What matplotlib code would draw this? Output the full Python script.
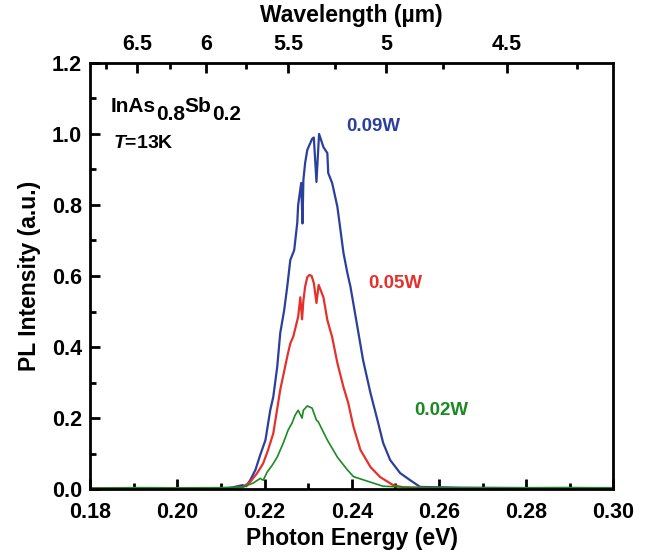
import matplotlib.pyplot as plt
import numpy as np
from matplotlib.ticker import MultipleLocator, FixedLocator
from matplotlib import transforms

plt.rcParams['font.family'] = ['Liberation Sans', 'DejaVu Sans']
plt.rcParams['font.weight'] = 'bold'
plt.rcParams['mathtext.fontset'] = 'custom'
plt.rcParams['mathtext.rm'] = 'Liberation Sans:bold'
plt.rcParams['mathtext.it'] = 'Liberation Sans:bold:italic'

# photon energy (eV) / intensity
e_blue = [0.180, 0.195, 0.205, 0.212, 0.2149, 0.2158, 0.2167, 0.2179, 0.2190, 0.2202,
          0.2213, 0.2220, 0.2229, 0.2236, 0.2245, 0.2252, 0.2259, 0.2268, 0.2275,
          0.2277, 0.2284, 0.2287, 0.2289, 0.2293, 0.2298, 0.2309, 0.2313, 0.2319,
          0.2325, 0.2335, 0.2344, 0.2346, 0.2355, 0.2367, 0.2374, 0.2381, 0.2390,
          0.2397, 0.2413, 0.2426, 0.2443, 0.2459, 0.2472, 0.2488, 0.2511, 0.2534,
          0.2557, 0.265, 0.28, 0.30]
i_blue = [0.002, 0.003, 0.002, 0.003, 0.011, 0.008, 0.025, 0.054, 0.096, 0.138,
          0.222, 0.26, 0.344, 0.44, 0.504, 0.57, 0.645, 0.673, 0.75,
          0.80, 0.862, 0.748, 0.87, 0.918, 0.955, 0.986, 0.99, 0.865,
          1.0, 0.963, 0.946, 0.89, 0.862, 0.795, 0.73, 0.665, 0.608,
          0.57, 0.456, 0.363, 0.27, 0.194, 0.13, 0.082, 0.045, 0.025,
          0.006, 0.004, 0.003, 0.003]

e_red = [0.180, 0.195, 0.205, 0.212, 0.2151, 0.2167, 0.2183, 0.2197, 0.2208, 0.2220,
         0.2236, 0.2252, 0.2259, 0.2266, 0.2277, 0.2282, 0.2286, 0.2289, 0.2293,
         0.2298, 0.2303, 0.2308, 0.2313, 0.2319, 0.2324, 0.2335, 0.2344, 0.2355,
         0.2367, 0.2381, 0.2392, 0.2404, 0.2420, 0.2443, 0.2465, 0.2495, 0.2518,
         0.26, 0.28, 0.30]
i_red = [0.002, 0.002, 0.003, 0.002, 0.006, 0.02, 0.045, 0.073, 0.11, 0.157,
         0.28, 0.373, 0.41, 0.43, 0.485, 0.54, 0.478, 0.53, 0.57,
         0.597, 0.603, 0.60, 0.58, 0.524, 0.575, 0.54, 0.476, 0.428,
         0.355, 0.287, 0.242, 0.175, 0.11, 0.062, 0.034, 0.011, 0.005,
         0.003, 0.002, 0.002]

e_green = [0.180, 0.190, 0.200, 0.210, 0.2151, 0.2174, 0.2190, 0.2197, 0.2206, 0.2218,
           0.2229, 0.2243, 0.2254, 0.2263, 0.2270, 0.2277, 0.2286, 0.2289, 0.2298,
           0.2309, 0.2319, 0.2323, 0.2344, 0.2367, 0.2390, 0.2404, 0.2449, 0.2472,
           0.255, 0.27, 0.29, 0.30]
i_green = [0.002, 0.004, 0.003, 0.004, 0.006, 0.017, 0.03, 0.025, 0.048, 0.068,
           0.09, 0.13, 0.166, 0.186, 0.208, 0.222, 0.20, 0.222, 0.234,
           0.228, 0.194, 0.19, 0.138, 0.09, 0.054, 0.035, 0.017, 0.008,
           0.004, 0.003, 0.004, 0.003]

powers = ["0.09W", "0.05W", "0.02W"]
colors = ["#2b3f9c", "#e5312b", "#1b8a22"]
label_pos = [(0.2449, 1.02), (0.2500, 0.58), (0.2605, 0.22)]

wl_ticks = [6.5, 6, 5.5, 5, 4.5]
wl_minor = [6.75, 6.25, 5.75, 5.25, 4.75, 4.25]

fig = plt.figure(figsize=(6.49, 5.52), dpi=100)
ax = fig.add_axes([0.139, 0.114, 0.806, 0.772])

ax.plot(e_blue, i_blue, color=colors[0], lw=1.6)
ax.plot(e_red, i_red, color=colors[1], lw=1.6)
ax.plot(e_green, i_green, color=colors[2], lw=1.2)

for txt, c, (x, y) in zip(powers, colors, label_pos):
    ax.text(x, y, txt, color=c, fontsize=13.5, fontweight='bold', ha='center', va='center')

# InAs0.8Sb0.2 with big subscripts, piece by piece
pieces = [("InAs", 0), ("0.8", -8), ("Sb", 0), ("0.2", -8)]
fig.canvas.draw()
renderer = fig.canvas.get_renderer()
x0 = 0.1847
y0 = (489 - 111.7) / 355.0
dx = 0
for s, dy in pieces:
    tr = transforms.offset_copy(ax.transData, fig=fig, x=dx, y=dy, units='dots')
    t = ax.text(x0, y0, s, fontsize=15, fontweight='bold', ha='left', va='baseline',
                transform=tr)
    dx += t.get_window_extent(renderer).width

ax.text(0.1852, 0.973, r'$T$=13K', fontsize=14, fontweight='bold', ha='left', va='center')

ax.set_xlim(0.18, 0.30)
ax.set_ylim(0, 1.2)
ax.xaxis.set_major_locator(MultipleLocator(0.02))
ax.xaxis.set_minor_locator(MultipleLocator(0.01))
ax.yaxis.set_major_locator(MultipleLocator(0.2))
ax.yaxis.set_minor_locator(MultipleLocator(0.1))
ax.xaxis.set_major_formatter(plt.FormatStrFormatter('%.2f'))
ax.yaxis.set_major_formatter(plt.FormatStrFormatter('%.1f'))
ax.tick_params(which='both', direction='in', width=2, labelsize=15.5)
ax.tick_params(axis='x', pad=9)
ax.tick_params(axis='y', pad=6)
ax.tick_params(which='major', length=7)
ax.tick_params(which='minor', length=4)
for s in ax.spines.values():
    s.set_linewidth(2)

ax.set_xlabel('Photon Energy (eV)', fontsize=16.5, fontweight='bold', labelpad=3)
ax.set_ylabel('PL Intensity (a.u.)', fontsize=16.5, fontweight='bold', labelpad=8)

top = ax.secondary_xaxis('top', functions=(lambda e: 1.23984 / e, lambda l: 1.23984 / l))
top.xaxis.set_major_locator(FixedLocator(wl_ticks))
top.xaxis.set_minor_locator(FixedLocator(wl_minor))
top.set_xticklabels([('%g' % t) for t in wl_ticks])
top.tick_params(which='both', direction='in', width=2, labelsize=15.5, pad=6)
top.tick_params(which='major', length=7)
top.tick_params(which='minor', length=4)
top.set_xlabel('Wavelength (µm)', fontsize=16.5, fontweight='bold', labelpad=8)

plt.savefig('out.png', dpi=100)
